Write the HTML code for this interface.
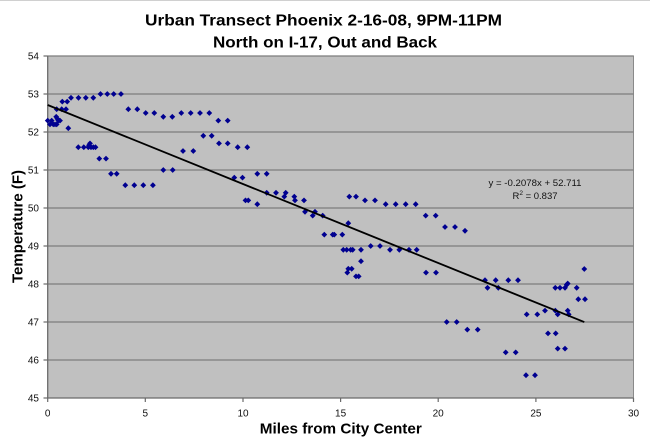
<!DOCTYPE html>
<html><head><meta charset="utf-8"><style>
html,body{margin:0;padding:0;background:#fff;}
svg{display:block;}
text{font-family:"Liberation Sans",Arial,sans-serif;}
</style></head><body>
<svg width="650" height="445" viewBox="0 0 650 445" xmlns="http://www.w3.org/2000/svg">
<defs><path id="d" d="M0,-2.9L2.9,0L0,2.9L-2.9,0Z" fill="#000090"/></defs>
<rect x="0" y="0" width="650" height="445" fill="#fff"/>
<rect x="0" y="0" width="650" height="1" fill="#d0d0d0"/>
<!-- title -->
<text x="323.5" y="25.7" font-size="15.5" font-weight="bold" text-anchor="middle" textLength="357" lengthAdjust="spacingAndGlyphs" fill="#000">Urban Transect Phoenix 2-16-08, 9PM-11PM</text>
<text x="325" y="47.5" font-size="15.5" font-weight="bold" text-anchor="middle" textLength="224" lengthAdjust="spacingAndGlyphs" fill="#000">North on I-17, Out and Back</text>
<!-- plot area -->
<rect x="47.7" y="56" width="585.8" height="342" fill="#c0c0c0" stroke="#8a8a8a" stroke-width="1"/>
<g stroke="#7c7c7c" stroke-width="1.2">
<line x1="47.7" y1="94" x2="633.5" y2="94"/>
<line x1="47.7" y1="132" x2="633.5" y2="132"/>
<line x1="47.7" y1="170" x2="633.5" y2="170"/>
<line x1="47.7" y1="208" x2="633.5" y2="208"/>
<line x1="47.7" y1="246" x2="633.5" y2="246"/>
<line x1="47.7" y1="284" x2="633.5" y2="284"/>
<line x1="47.7" y1="322" x2="633.5" y2="322"/>
<line x1="47.7" y1="360" x2="633.5" y2="360"/>
<line x1="47.7" y1="56" x2="633.5" y2="56"/>
</g>
<g stroke="#6a6a6a" stroke-width="1.2">
<line x1="47.7" y1="56" x2="47.7" y2="398"/>
<line x1="47.7" y1="398" x2="633.5" y2="398"/>
<line x1="43.5" y1="56" x2="47.7" y2="56"/>
<line x1="43.5" y1="94" x2="47.7" y2="94"/>
<line x1="43.5" y1="132" x2="47.7" y2="132"/>
<line x1="43.5" y1="170" x2="47.7" y2="170"/>
<line x1="43.5" y1="208" x2="47.7" y2="208"/>
<line x1="43.5" y1="246" x2="47.7" y2="246"/>
<line x1="43.5" y1="284" x2="47.7" y2="284"/>
<line x1="43.5" y1="322" x2="47.7" y2="322"/>
<line x1="43.5" y1="360" x2="47.7" y2="360"/>
<line x1="43.5" y1="398" x2="47.7" y2="398"/>
<line x1="47.7" y1="398" x2="47.7" y2="402"/>
<line x1="145.3" y1="398" x2="145.3" y2="402"/>
<line x1="243" y1="398" x2="243" y2="402"/>
<line x1="340.6" y1="398" x2="340.6" y2="402"/>
<line x1="438.2" y1="398" x2="438.2" y2="402"/>
<line x1="535.9" y1="398" x2="535.9" y2="402"/>
<line x1="633.5" y1="398" x2="633.5" y2="402"/>
</g>
<!-- y tick labels -->
<g font-size="10" fill="#111" text-anchor="end">
<text x="39" y="59.6">54</text>
<text x="39" y="97.6">53</text>
<text x="39" y="135.6">52</text>
<text x="39" y="173.6">51</text>
<text x="39" y="211.6">50</text>
<text x="39" y="249.6">49</text>
<text x="39" y="287.6">48</text>
<text x="39" y="325.6">47</text>
<text x="39" y="363.6">46</text>
<text x="39" y="401.6">45</text>
</g>
<!-- x tick labels -->
<g font-size="10" fill="#111" text-anchor="middle">
<text x="47.7" y="416.5">0</text>
<text x="145.3" y="416.5">5</text>
<text x="243" y="416.5">10</text>
<text x="340.6" y="416.5">15</text>
<text x="438.2" y="416.5">20</text>
<text x="535.9" y="416.5">25</text>
<text x="633.5" y="416.5">30</text>
</g>
<!-- axis titles -->
<text x="340.8" y="433.3" font-size="15" font-weight="bold" text-anchor="middle" textLength="162" lengthAdjust="spacingAndGlyphs" fill="#000">Miles from City Center</text>
<text transform="translate(22.5,226.5) rotate(-90)" x="0" y="0" font-size="15" font-weight="bold" text-anchor="middle" textLength="113" lengthAdjust="spacingAndGlyphs" fill="#000">Temperature (F)</text>
<!-- data points -->
<g>
<use href="#d" x="47.7" y="120.6"/><use href="#d" x="51.7" y="120.6"/><use href="#d" x="50" y="124.4"/><use href="#d" x="53.3" y="124.4"/><use href="#d" x="55" y="124.4"/><use href="#d" x="56.7" y="124.4"/><use href="#d" x="56.2" y="116.8"/><use href="#d" x="57.3" y="118.7"/><use href="#d" x="58.3" y="120.6"/><use href="#d" x="60" y="120.6"/>
<use href="#d" x="56.7" y="109.2"/><use href="#d" x="61.7" y="109.2"/><use href="#d" x="66" y="109.2"/>
<use href="#d" x="62.3" y="101.6"/><use href="#d" x="67.2" y="101.6"/>
<use href="#d" x="68.3" y="128.2"/>
<use href="#d" x="71" y="97.8"/><use href="#d" x="78.5" y="97.8"/><use href="#d" x="85.8" y="97.8"/><use href="#d" x="93.3" y="97.8"/>
<use href="#d" x="100.5" y="94"/><use href="#d" x="107.3" y="94"/><use href="#d" x="113.7" y="94"/><use href="#d" x="121" y="94"/>
<use href="#d" x="78.3" y="147.2"/><use href="#d" x="83.8" y="147.2"/><use href="#d" x="88.3" y="147.2"/><use href="#d" x="91" y="147.2"/><use href="#d" x="93.3" y="147.2"/><use href="#d" x="95.5" y="147.2"/>
<use href="#d" x="90" y="143.4"/><use href="#d" x="89" y="145.3"/>
<use href="#d" x="99.3" y="158.6"/><use href="#d" x="106" y="158.6"/>
<use href="#d" x="111" y="173.8"/><use href="#d" x="116.7" y="173.8"/>
<use href="#d" x="125.3" y="185.2"/><use href="#d" x="134.3" y="185.2"/><use href="#d" x="143.3" y="185.2"/><use href="#d" x="152.9" y="185.2"/>
<use href="#d" x="128.3" y="109.2"/><use href="#d" x="137.3" y="109.2"/>
<use href="#d" x="145.7" y="113"/><use href="#d" x="154.3" y="113"/>
<use href="#d" x="163.3" y="116.8"/><use href="#d" x="172.3" y="116.8"/>
<use href="#d" x="163.3" y="170"/><use href="#d" x="172.7" y="170"/>
<use href="#d" x="181.3" y="113"/><use href="#d" x="190.7" y="113"/><use href="#d" x="200" y="113"/><use href="#d" x="209.3" y="113"/>
<use href="#d" x="183" y="151"/><use href="#d" x="193.3" y="151"/>
<use href="#d" x="203.3" y="135.8"/><use href="#d" x="211.7" y="135.8"/>
<use href="#d" x="218.3" y="120.6"/><use href="#d" x="227.7" y="120.6"/>
<use href="#d" x="219" y="143.4"/><use href="#d" x="227.7" y="143.4"/>
<use href="#d" x="237.7" y="147.2"/><use href="#d" x="247.3" y="147.2"/>
<use href="#d" x="234.3" y="177.6"/><use href="#d" x="242.5" y="177.6"/>
<use href="#d" x="245.5" y="200.4"/><use href="#d" x="248.3" y="200.4"/>
<use href="#d" x="257.3" y="204.2"/>
<use href="#d" x="257.3" y="173.8"/><use href="#d" x="266.7" y="173.8"/>
<use href="#d" x="266.7" y="192.8"/><use href="#d" x="276" y="192.8"/><use href="#d" x="285.7" y="192.8"/>
<use href="#d" x="284.3" y="196.6"/><use href="#d" x="294.3" y="196.6"/>
<use href="#d" x="295" y="200.4"/><use href="#d" x="304" y="200.4"/>
<use href="#d" x="305" y="211.8"/><use href="#d" x="315" y="211.8"/>
<use href="#d" x="312.7" y="215.6"/><use href="#d" x="322.7" y="215.6"/>
<use href="#d" x="324.3" y="234.6"/><use href="#d" x="332.7" y="234.6"/><use href="#d" x="334.3" y="234.6"/><use href="#d" x="342.3" y="234.6"/>
<use href="#d" x="348.3" y="223.2"/>
<use href="#d" x="349.3" y="196.6"/><use href="#d" x="356" y="196.6"/>
<use href="#d" x="365" y="200.4"/><use href="#d" x="375" y="200.4"/>
<use href="#d" x="385.7" y="204.2"/><use href="#d" x="395.7" y="204.2"/><use href="#d" x="405.7" y="204.2"/><use href="#d" x="415.7" y="204.2"/>
<use href="#d" x="425.7" y="215.6"/><use href="#d" x="435.7" y="215.6"/>
<use href="#d" x="445" y="227"/><use href="#d" x="455" y="227"/>
<use href="#d" x="465" y="230.8"/>
<use href="#d" x="343.3" y="249.8"/><use href="#d" x="346.7" y="249.8"/><use href="#d" x="350.7" y="249.8"/><use href="#d" x="352.7" y="249.8"/><use href="#d" x="361" y="249.8"/><use href="#d" x="390" y="249.8"/><use href="#d" x="399.3" y="249.8"/><use href="#d" x="409" y="249.8"/><use href="#d" x="416.7" y="249.8"/>
<use href="#d" x="370.7" y="246"/><use href="#d" x="380" y="246"/>
<use href="#d" x="361" y="261.2"/>
<use href="#d" x="348.3" y="268.8"/><use href="#d" x="351.7" y="268.8"/>
<use href="#d" x="347.3" y="272.6"/>
<use href="#d" x="356" y="276.4"/><use href="#d" x="358.7" y="276.4"/>
<use href="#d" x="426" y="272.6"/><use href="#d" x="436" y="272.6"/>
<use href="#d" x="485" y="280.2"/><use href="#d" x="495.7" y="280.2"/><use href="#d" x="508.3" y="280.2"/><use href="#d" x="518" y="280.2"/>
<use href="#d" x="487.5" y="287.8"/><use href="#d" x="498.3" y="287.8"/>
<use href="#d" x="446.7" y="322"/><use href="#d" x="456.7" y="322"/>
<use href="#d" x="467.3" y="329.6"/><use href="#d" x="477.7" y="329.6"/>
<use href="#d" x="505.7" y="352.4"/><use href="#d" x="515.7" y="352.4"/>
<use href="#d" x="526" y="375.2"/><use href="#d" x="535" y="375.2"/>
<use href="#d" x="526.7" y="314.4"/><use href="#d" x="537.3" y="314.4"/>
<use href="#d" x="545" y="310.6"/><use href="#d" x="555.3" y="310.6"/>
<use href="#d" x="557.7" y="314.4"/><use href="#d" x="567.7" y="310.6"/><use href="#d" x="568.7" y="314.4"/>
<use href="#d" x="548" y="333.4"/><use href="#d" x="555.7" y="333.4"/>
<use href="#d" x="557.7" y="348.6"/><use href="#d" x="565" y="348.6"/>
<use href="#d" x="555.3" y="287.8"/><use href="#d" x="560" y="287.8"/><use href="#d" x="565" y="287.8"/>
<use href="#d" x="566.7" y="284.8"/><use href="#d" x="567.7" y="283.5"/>
<use href="#d" x="576.7" y="287.8"/>
<use href="#d" x="578.3" y="299.2"/><use href="#d" x="585" y="299.2"/>
<use href="#d" x="584.3" y="269"/>
</g>
<!-- trendline -->
<line x1="47.7" y1="105" x2="584.3" y2="322.1" stroke="#000" stroke-width="1.8"/>
<!-- equation -->
<text x="535" y="186" font-size="9.5" text-anchor="middle" textLength="93" lengthAdjust="spacingAndGlyphs" fill="#111">y = -0.2078x + 52.711</text>
<text x="535" y="199" font-size="9.5" text-anchor="middle" fill="#111">R<tspan font-size="6.5" dy="-4">2</tspan><tspan dy="4"> = 0.837</tspan></text>
</svg>
</body></html>
